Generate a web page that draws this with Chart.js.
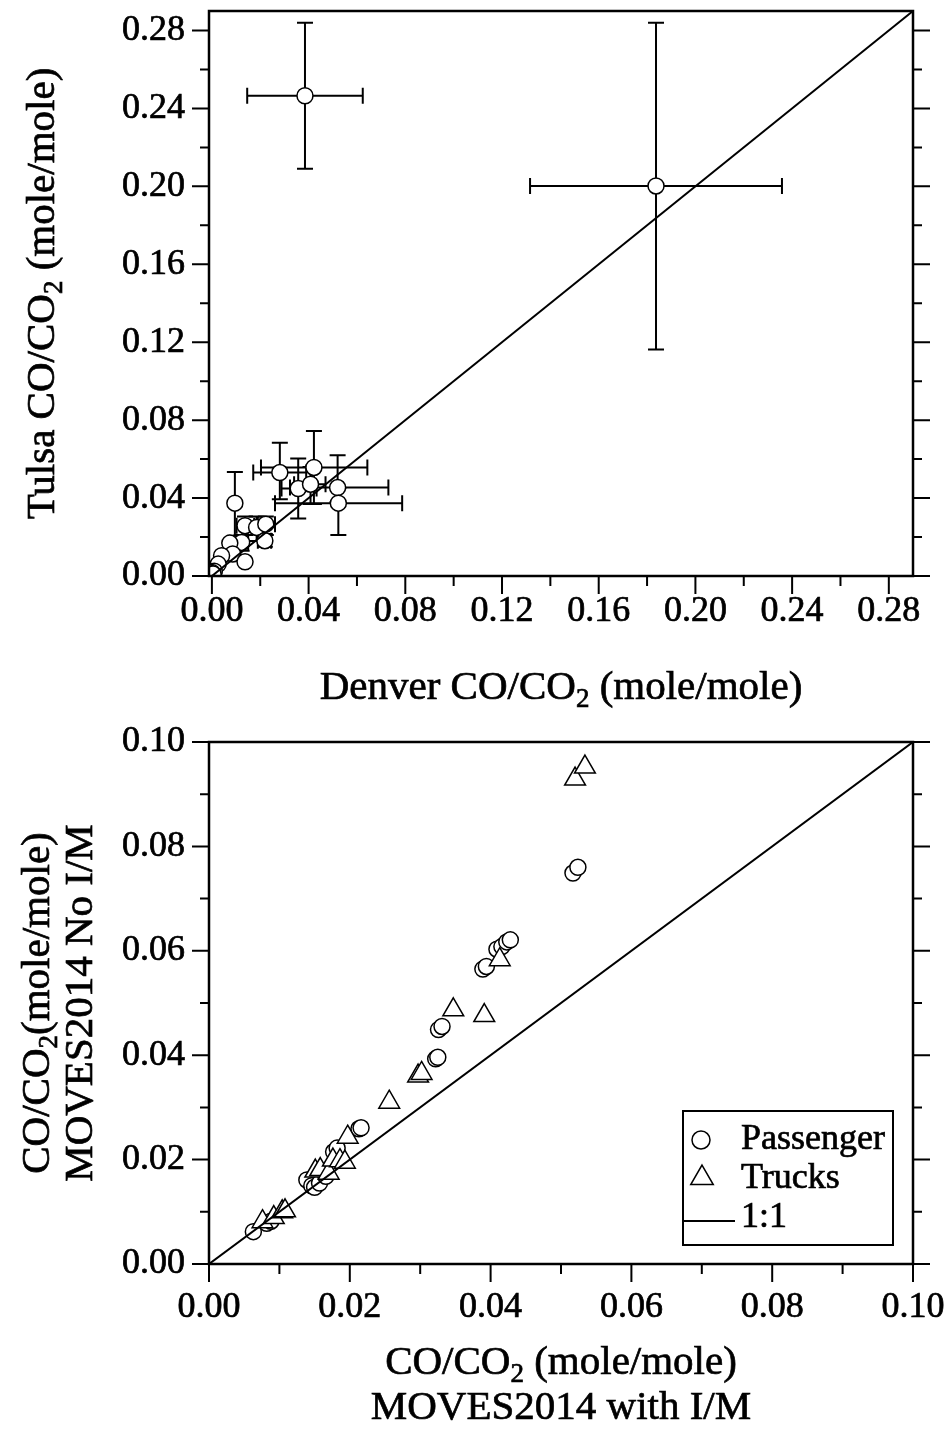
<!DOCTYPE html>
<html>
<head>
<meta charset="utf-8">
<script src="https://cdn.jsdelivr.net/npm/chart.js@4.4.0/dist/chart.umd.min.js"></script>
<style>
  html, body { margin: 0; padding: 0; background: #fff; }
  #wrap { position: relative; width: 947px; height: 1439px; }
  .box { position: absolute; left: 0; width: 947px; }
</style>
</head>
<body>
<div id="wrap">
  <div class="box" style="top:0;height:720px"><canvas id="top-chart" width="947" height="720"></canvas></div>
  <div class="box" style="top:720px;height:719px"><canvas id="bottom-chart" width="947" height="719"></canvas></div>
</div>
<script>
// ---- top panel: Denver vs Tulsa CO/CO2 ----
const denverCO = [0.0385, 0.1837, 0.0095, 0.0281, 0.0422, 0.0357, 0.0408, 0.0520, 0.0523,
                  0.0137, 0.0185, 0.0223, 0.0123, 0.0074, 0.0219, 0.0086, 0.0137, 0.0040,
                  0.0026, 0.0010, 0.0000, -0.0008, 0.0005];
const tulsaCO  = [0.2465, 0.2002, 0.0374, 0.0531, 0.0557, 0.0449, 0.0471, 0.0454, 0.0374,
                  0.0258, 0.0249, 0.0266, 0.0172, 0.0169, 0.0181, 0.0113, 0.0073, 0.0104,
                  0.0061, 0.0025, 0.0018, 0.0015, 0.0010];
// error bar bounds (null = no bar)
const denverLo = [0.0146, 0.1316, null, 0.0171, 0.0203, 0.0288, 0.0340, 0.0323, 0.0261,
                  0.0102, 0.0140, 0.0190, 0.0102, null, 0.0190, null, null, null,
                  null, null, null, null, null];
const denverHi = [0.0624, 0.2358, null, 0.0390, 0.0643, 0.0433, 0.0470, 0.0730, 0.0787,
                  0.0175, 0.0215, 0.0261, 0.0150, null, 0.0245, null, null, null,
                  null, null, null, null, null];
const tulsaLo  = [0.2090, 0.1162, 0.0206, 0.0394, 0.0370, 0.0295, 0.0369, 0.0380, 0.0210,
                  0.0210, 0.0180, 0.0210, 0.0130, null, 0.0150, null, null, null,
                  null, null, null, null, null];
const tulsaHi  = [0.2840, 0.2840, 0.0534, 0.0684, 0.0744, 0.0603, 0.0560, 0.0620, 0.0450,
                  0.0306, 0.0306, 0.0306, 0.0210, null, 0.0215, null, null, null,
                  null, null, null, null, null];
const topMajor = [0, 0.04, 0.08, 0.12, 0.16, 0.20, 0.24, 0.28];
const topMinor = [0.02, 0.06, 0.10, 0.14, 0.18, 0.22, 0.26];

// ---- bottom panel: MOVES2014 with I/M vs no I/M ----
const passengerWithIM = [0.0063, 0.0082, 0.0088, 0.0139, 0.0146, 0.0150, 0.0157, 0.0166,
                         0.0177, 0.0182, 0.0213, 0.0216, 0.0322, 0.0325, 0.0326, 0.0331,
                         0.0389, 0.0394, 0.0409, 0.0416, 0.0423, 0.0428, 0.0517, 0.0524];
const passengerNoIM   = [0.0062, 0.0078, 0.0082, 0.0161, 0.0150, 0.0147, 0.0155, 0.0168,
                         0.0215, 0.0222, 0.0259, 0.0261, 0.0393, 0.0396, 0.0449, 0.0455,
                         0.0565, 0.0570, 0.0603, 0.0608, 0.0617, 0.0621, 0.0749, 0.0760];
const trucksWithIM = [0.0076, 0.0092, 0.0104, 0.0108, 0.0151, 0.0158, 0.0170, 0.0176, 0.0186,
                      0.0193, 0.0197, 0.0256, 0.0297, 0.0302, 0.0347, 0.0391, 0.0413, 0.0520, 0.0534];
const trucksNoIM   = [0.0081, 0.0089, 0.0100, 0.0102, 0.0178, 0.0181, 0.0174, 0.0199, 0.0198,
                      0.0195, 0.0243, 0.0310, 0.0360, 0.0365, 0.0487, 0.0476, 0.0583, 0.0929, 0.0952];
const botMajor = [0, 0.02, 0.04, 0.06, 0.08, 0.10];
const botMinor = [0.01, 0.03, 0.05, 0.07, 0.09];

const legendLabels = ['Passenger', 'Trucks', '1:1'];
const FONT = 'Liberation Serif';
const TICK_SIZE = 36;
const TITLE_SIZE = 41;
const STROKE = 0.7;

function pairs(xs, ys) {
    return xs.map((x, i) => ({ x: x, y: ys[i] }));
}

// text with {..} parts drawn as subscripts
function drawRich(ctx, text, cx, cy, size, rotate) {
    const parts = text.split(/(\{[^}]*\})/).filter(p => p.length);
    const items = parts.map(p => {
        const sub = p.startsWith('{');
        const t = sub ? p.slice(1, -1) : p;
        const s = sub ? Math.round(size * 0.65) : size;
        ctx.font = s + 'px "' + FONT + '"';
        return { t: t, sub: sub, s: s, w: ctx.measureText(t).width };
    });
    const total = items.reduce((a, b) => a + b.w, 0);
    ctx.save();
    ctx.translate(cx, cy);
    if (rotate) ctx.rotate(-Math.PI / 2);
    ctx.fillStyle = '#000';
    ctx.strokeStyle = '#000';
    ctx.lineWidth = STROKE;
    ctx.textBaseline = 'alphabetic';
    let x = -total / 2;
    items.forEach(it => {
        ctx.font = it.s + 'px "' + FONT + '"';
        const y = size * 0.34 + (it.sub ? size * 0.2 : 0);
        ctx.fillText(it.t, x, y);
        ctx.strokeText(it.t, x, y);
        x += it.w;
    });
    ctx.restore();
}

// frame, tick marks, axis titles, error bars and legend
const framePlugin = {
    id: 'frame',
    beforeDatasetsDraw(chart, args, opts) {
        if (!opts.errors) return;
        const ctx = chart.ctx, xs = chart.scales.x, ys = chart.scales.y;
        const e = opts.errors;
        ctx.save();
        ctx.strokeStyle = '#000';
        ctx.lineWidth = 2;
        e.x.forEach((xv, i) => {
            const px = xs.getPixelForValue(xv), py = ys.getPixelForValue(e.y[i]);
            ctx.beginPath();
            if (e.xlo[i] !== null) {
                const a = xs.getPixelForValue(e.xlo[i]), b = xs.getPixelForValue(e.xhi[i]);
                ctx.moveTo(a, py); ctx.lineTo(b, py);
                ctx.moveTo(a, py - 8); ctx.lineTo(a, py + 8);
                ctx.moveTo(b, py - 8); ctx.lineTo(b, py + 8);
            }
            if (e.ylo[i] !== null) {
                const a = ys.getPixelForValue(e.ylo[i]), b = ys.getPixelForValue(e.yhi[i]);
                ctx.moveTo(px, a); ctx.lineTo(px, b);
                ctx.moveTo(px - 8, a); ctx.lineTo(px + 8, a);
                ctx.moveTo(px - 8, b); ctx.lineTo(px + 8, b);
            }
            ctx.stroke();
        });
        ctx.restore();
    },
    afterDraw(chart, args, opts) {
        const ctx = chart.ctx, a = chart.chartArea;
        const xs = chart.scales.x, ys = chart.scales.y;
        ctx.save();
        ctx.strokeStyle = '#000';
        ctx.lineWidth = 2.5;
        ctx.strokeRect(a.left, a.top, a.right - a.left, a.bottom - a.top);
        ctx.lineWidth = 2;
        ctx.beginPath();
        const tick = (vals, len) => {
            vals.forEach(v => {
                const px = xs.getPixelForValue(v);
                ctx.moveTo(px, a.bottom); ctx.lineTo(px, a.bottom + len);
            });
        };
        const ytick = (vals, len) => {
            vals.forEach(v => {
                const py = ys.getPixelForValue(v);
                ctx.moveTo(a.left, py); ctx.lineTo(a.left - len, py);
                ctx.moveTo(a.right, py); ctx.lineTo(a.right + len, py);
            });
        };
        tick(opts.major, 18); tick(opts.minor, 10);
        ytick(opts.major, 17); ytick(opts.minor, 9);
        ctx.stroke();
        ctx.restore();

        opts.xTitle.forEach((t, i) => drawRich(ctx, t, (a.left + a.right) / 2, opts.xTitleY + i * 45, TITLE_SIZE, false));
        opts.yTitle.forEach((t, i) => drawRich(ctx, t, opts.yTitleX + i * 43, (a.top + a.bottom) / 2, TITLE_SIZE, true));

        if (opts.legend) {
            const L = opts.legend;
            ctx.save();
            ctx.strokeStyle = '#000';
            ctx.lineWidth = 2;
            ctx.strokeRect(L.left, L.top, L.width, L.height);
            ctx.lineWidth = 1.5;
            ctx.fillStyle = '#fff';
            ctx.beginPath();
            ctx.arc(L.left + 18, L.top + 29, 9, 0, Math.PI * 2);
            ctx.fill(); ctx.stroke();
            const tx = L.left + 19, ty = L.top + 67, r = 13;
            ctx.beginPath();
            ctx.moveTo(tx, ty - r);
            ctx.lineTo(tx + r * 0.866, ty + r * 0.5);
            ctx.lineTo(tx - r * 0.866, ty + r * 0.5);
            ctx.closePath();
            ctx.fill(); ctx.stroke();
            ctx.lineWidth = 2;
            ctx.beginPath();
            ctx.moveTo(L.left, L.top + 110); ctx.lineTo(L.left + 52, L.top + 110);
            ctx.stroke();
            ctx.fillStyle = '#000';
            ctx.lineWidth = STROKE;
            ctx.font = TICK_SIZE + 'px "' + FONT + '"';
            ctx.textBaseline = 'middle';
            legendLabels.forEach((lab, i) => {
                ctx.fillText(lab, L.left + 58, L.top + 29 + i * 39);
                ctx.strokeText(lab, L.left + 58, L.top + 29 + i * 39);
            });
            ctx.restore();
        }
    }
};

function axis(min, max, ticks, size, isX, pad) {
    return {
        type: 'linear',
        min: min,
        max: max,
        grid: { display: false, drawTicks: false },
        border: { display: false },
        afterBuildTicks: s => { s.ticks = ticks.map(v => ({ value: v })); },
        afterFit: s => {
            if (isX) s.height = size; else s.width = size;
            s.paddingTop = 0; s.paddingBottom = 0; s.paddingLeft = 0; s.paddingRight = 0;
        },
        ticks: {
            color: '#000',
            padding: pad,
            maxRotation: 0,
            autoSkip: false,
            textStrokeColor: '#000',
            textStrokeWidth: STROKE,
            font: { family: FONT, size: TICK_SIZE },
            callback: v => Number(v).toFixed(2)
        }
    };
}

const marker = { backgroundColor: '#fff', borderColor: '#000', borderWidth: 1.5 };

new Chart(document.getElementById('top-chart'), {
    type: 'scatter',
    data: {
        datasets: [
            { type: 'line', data: [{ x: 0, y: 0 }, { x: 0.29, y: 0.29 }], borderColor: '#000',
              borderWidth: 2, pointRadius: 0, order: 0 },
            Object.assign({ data: pairs(denverCO, tulsaCO), pointRadius: 8, pointStyle: 'circle', order: 1 }, marker)
        ]
    },
    options: {
        responsive: false,
        animation: false,
        layout: { padding: { top: 11, right: 34, left: 0, bottom: 0 } },
        scales: {
            x: axis(-0.0012, 0.29, topMajor, 144, true, 14),
            y: axis(0, 0.29, topMajor, 209, false, 24)
        },
        plugins: {
            legend: { display: false },
            tooltip: { enabled: false },
            frame: {
                major: topMajor, minor: topMinor,
                xTitle: ['Denver CO/CO{2} (mole/mole)'], xTitleY: 685,
                yTitle: ['Tulsa CO/CO{2} (mole/mole)'], yTitleX: 40,
                errors: { x: denverCO, y: tulsaCO, xlo: denverLo, xhi: denverHi, ylo: tulsaLo, yhi: tulsaHi }
            }
        }
    },
    plugins: [framePlugin]
});

new Chart(document.getElementById('bottom-chart'), {
    type: 'scatter',
    data: {
        datasets: [
            { type: 'line', data: [{ x: 0, y: 0 }, { x: 0.10, y: 0.10 }], borderColor: '#000',
              borderWidth: 2, pointRadius: 0, order: 0 },
            Object.assign({ data: pairs(trucksWithIM, trucksNoIM), pointRadius: 12, pointStyle: 'triangle', order: 1 }, marker),
            Object.assign({ data: pairs(passengerWithIM, passengerNoIM), pointRadius: 8, pointStyle: 'circle', order: 2 }, marker)
        ]
    },
    options: {
        responsive: false,
        animation: false,
        layout: { padding: { top: 22, right: 34, left: 0, bottom: 0 } },
        scales: {
            x: axis(0, 0.10, botMajor, 175, true, 22),
            y: axis(0, 0.10, botMajor, 209, false, 24)
        },
        plugins: {
            legend: { display: false },
            tooltip: { enabled: false },
            frame: {
                major: botMajor, minor: botMinor,
                xTitle: ['CO/CO{2} (mole/mole)', 'MOVES2014 with I/M'], xTitleY: 640,
                yTitle: ['CO/CO{2}(mole/mole)', 'MOVES2014 No I/M'], yTitleX: 35,
                legend: { left: 683, top: 391, width: 210, height: 134 }
            }
        }
    },
    plugins: [framePlugin]
});
</script>
</body>
</html>
